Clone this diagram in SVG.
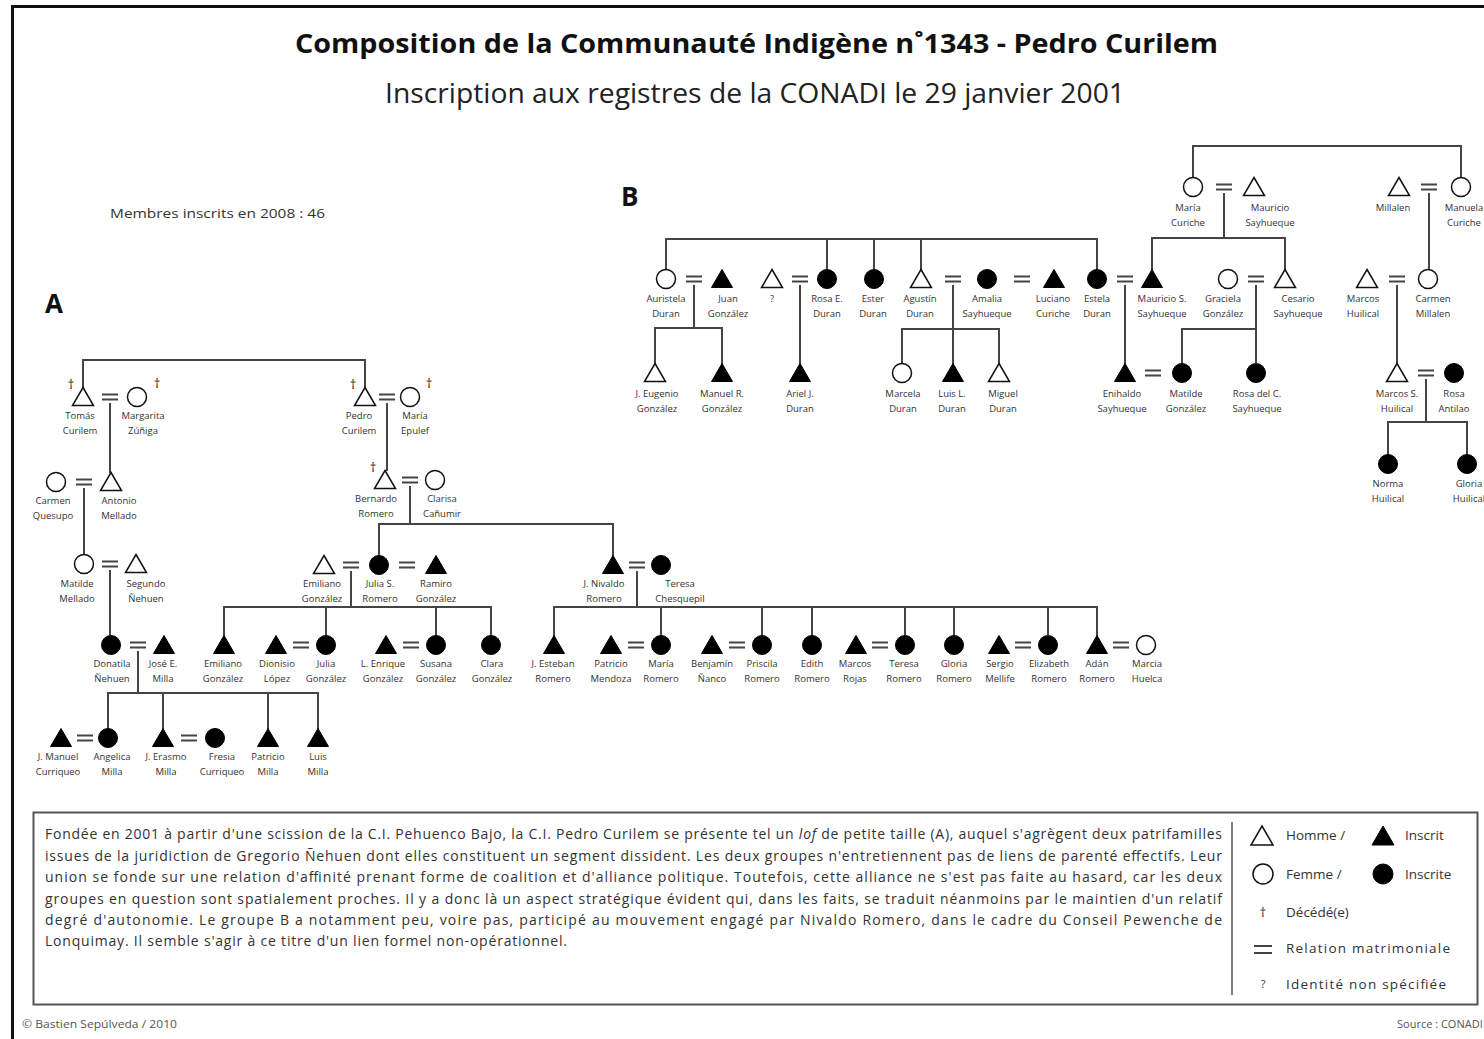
<svg xmlns="http://www.w3.org/2000/svg" xmlns:xlink="http://www.w3.org/1999/xlink" width="1484" height="1039" viewBox="0 0 1484 1039">
<style>
  text { font-family: "Open Sans", "Liberation Sans", sans-serif; }
  .node text { font-size: 9.5px; fill: #333; text-anchor: middle; }
  .node text.d { font-size: 13px; fill: #222; }
  .o { fill: #fff; stroke: #111; stroke-width: 1.5; }
  .k { fill: #000; stroke: #000; stroke-width: 1; }
  .c { stroke: #444; stroke-width: 2; fill: none; }
  .title { font-size: 27px; font-weight: bold; fill: #111; }
  .sub { font-size: 27px; fill: #222; }
  .body { font-size: 14px; fill: #333; }
  .leg { font-size: 13.5px; fill: #333; }
  .sec { font-family: "Open Sans", "Liberation Sans", sans-serif; font-size: 26px; font-weight: bold; fill: #111; }
</style>
<defs>
  <path id="T" d="M0,-9.5L10.5,8.5H-10.5Z"/>
  <circle id="C" r="9.5"/>
  <path id="E" d="M-8,-2.6H8M-8,2.6H8" stroke="#444" stroke-width="2" fill="none"/>
</defs>
<rect x="0" y="0" width="1484" height="1039" fill="#fff"/>
<path d="M12.5,1039V6.5H1484" stroke="#111" stroke-width="3" fill="none"/>

<text class="title" x="295" y="53" textLength="923" lengthAdjust="spacingAndGlyphs">Composition de la Communauté Indigène n˚1343 - Pedro Curilem</text>
<text class="sub" x="385" y="103" textLength="740" lengthAdjust="spacingAndGlyphs">Inscription aux registres de la CONADI le 29 janvier 2001</text>
<text x="110" y="218" font-size="13" fill="#333" textLength="215" lengthAdjust="spacingAndGlyphs">Membres inscrits en 2008 : 46</text>
<text class="sec" x="45" y="313">A</text>
<text class="sec" x="621" y="206">B</text>

<!-- connectors -->
<g id="connectors" class="c">
  <!-- A -->
  <path d="M83,388V360H365V388"/>
  <use href="#E" x="110" y="397"/>
  <path d="M110,403V473"/>
  <use href="#E" x="84" y="482"/>
  <path d="M84,488V554.5"/>
  <use href="#E" x="110" y="564"/>
  <path d="M110,570V635.5"/>
  <use href="#E" x="138" y="645"/>
  <path d="M138,651V693M108,728.5V693H318V729M163,693V729M268,693V729"/>
  <use href="#E" x="85" y="738"/>
  <use href="#E" x="189" y="738"/>
  <use href="#E" x="387" y="397"/>
  <path d="M387,403V471"/>
  <use href="#E" x="410" y="480"/>
  <path d="M410,486V524M379,555.5V524H613V556"/>
  <use href="#E" x="351" y="565"/>
  <use href="#E" x="407" y="565"/>
  <path d="M351,571V607M224,636V607H491V635.5M326,607V635.5M436,607V635.5"/>
  <use href="#E" x="301" y="645"/>
  <use href="#E" x="411" y="645"/>
  <use href="#E" x="637" y="565"/>
  <path d="M637,571V607M554,636V607H1097V636M661,607V635.5M762,607V635.5M812,607V635.5M905,607V635.5M954,607V635.5M1048,607V635.5"/>
  <use href="#E" x="636" y="645"/>
  <use href="#E" x="737" y="645"/>
  <use href="#E" x="880" y="645"/>
  <use href="#E" x="1023" y="645"/>
  <use href="#E" x="1121" y="645"/>
  <!-- B -->
  <path d="M1193,177.5V146H1461V177.5"/>
  <use href="#E" x="1224" y="187"/>
  <path d="M1224,193V238M1152,270V238H1285V270"/>
  <use href="#E" x="1429" y="187"/>
  <path d="M1429,193V269.5"/>
  <path d="M666,269.5V239H1097V269.5M827,239V269.5M874,239V269.5M921,239V270"/>
  <use href="#E" x="694" y="279"/>
  <path d="M694,285V328M655,364V328H722V364"/>
  <use href="#E" x="800" y="279"/>
  <path d="M800,285V364"/>
  <use href="#E" x="953" y="279"/>
  <use href="#E" x="1022" y="279"/>
  <path d="M953,285V364M902,363.5V329H999V364"/>
  <use href="#E" x="1125" y="279"/>
  <path d="M1125,285V364"/>
  <use href="#E" x="1256" y="279"/>
  <path d="M1256,285V363.5M1182,363.5V329H1256"/>
  <use href="#E" x="1397" y="279"/>
  <path d="M1397,285V364"/>
  <use href="#E" x="1153" y="373"/>
  <use href="#E" x="1426" y="373"/>
  <path d="M1426,379V422M1388,454.5V422H1467V454.5"/>
</g>

<!-- A nodes -->
<g id="n-tomas" class="node"><use href="#T" x="83" y="397" class="o"/><text class="d" x="71" y="389">†</text><text x="80" y="419">Tomás<tspan x="80" dy="15">Curilem</tspan></text></g>
<g id="n-margarita" class="node"><use href="#C" x="137" y="397" class="o"/><text class="d" x="157" y="388">†</text><text x="143" y="419">Margarita<tspan x="143" dy="15">Zúñiga</tspan></text></g>
<g id="n-pedro" class="node"><use href="#T" x="365" y="397" class="o"/><text class="d" x="353" y="389">†</text><text x="359" y="419">Pedro<tspan x="359" dy="15">Curilem</tspan></text></g>
<g id="n-maria-epulef" class="node"><use href="#C" x="410" y="397" class="o"/><text class="d" x="429" y="388">†</text><text x="415" y="419">María<tspan x="415" dy="15">Epulef</tspan></text></g>
<g id="n-carmen-quesupo" class="node"><use href="#C" x="56" y="482" class="o"/><text x="53" y="504">Carmen<tspan x="53" dy="15">Quesupo</tspan></text></g>
<g id="n-antonio" class="node"><use href="#T" x="111" y="482" class="o"/><text x="119" y="504">Antonio<tspan x="119" dy="15">Mellado</tspan></text></g>
<g id="n-bernardo" class="node"><use href="#T" x="385" y="480" class="o"/><text class="d" x="373" y="472">†</text><text x="376" y="502">Bernardo<tspan x="376" dy="15">Romero</tspan></text></g>
<g id="n-clarisa" class="node"><use href="#C" x="435" y="480" class="o"/><text x="442" y="502">Clarisa<tspan x="442" dy="15">Cañumir</tspan></text></g>
<g id="n-matilde-mellado" class="node"><use href="#C" x="84" y="564" class="o"/><text x="77" y="587">Matilde<tspan x="77" dy="15">Mellado</tspan></text></g>
<g id="n-segundo" class="node"><use href="#T" x="136" y="564" class="o"/><text x="146" y="587">Segundo<tspan x="146" dy="15">Ñehuen</tspan></text></g>
<g id="n-donatila" class="node"><use href="#C" x="111" y="645" class="k"/><text x="112" y="667">Donatila<tspan x="112" dy="15">Ñehuen</tspan></text></g>
<g id="n-jose" class="node"><use href="#T" x="164" y="645" class="k"/><text x="163" y="667">José E.<tspan x="163" dy="15">Milla</tspan></text></g>
<g id="n-jmanuel" class="node"><use href="#T" x="61" y="738" class="k"/><text x="58" y="760">J. Manuel<tspan x="58" dy="15">Curriqueo</tspan></text></g>
<g id="n-angelica" class="node"><use href="#C" x="108" y="738" class="k"/><text x="112" y="760">Angelica<tspan x="112" dy="15">Milla</tspan></text></g>
<g id="n-jerasmo" class="node"><use href="#T" x="163" y="738" class="k"/><text x="166" y="760">J. Erasmo<tspan x="166" dy="15">Milla</tspan></text></g>
<g id="n-fresia" class="node"><use href="#C" x="215" y="738" class="k"/><text x="222" y="760">Fresia<tspan x="222" dy="15">Curriqueo</tspan></text></g>
<g id="n-patricio-milla" class="node"><use href="#T" x="268" y="738" class="k"/><text x="268" y="760">Patricio<tspan x="268" dy="15">Milla</tspan></text></g>
<g id="n-luis-milla" class="node"><use href="#T" x="318" y="738" class="k"/><text x="318" y="760">Luis<tspan x="318" dy="15">Milla</tspan></text></g>

<g id="n-emiliano" class="node"><use href="#T" x="324" y="565" class="o"/><text x="322" y="587">Emiliano<tspan x="322" dy="15">González</tspan></text></g>
<g id="n-julia-s" class="node"><use href="#C" x="379" y="565" class="k"/><text x="380" y="587">Julia S.<tspan x="380" dy="15">Romero</tspan></text></g>
<g id="n-ramiro" class="node"><use href="#T" x="436" y="565" class="k"/><text x="436" y="587">Ramiro<tspan x="436" dy="15">González</tspan></text></g>
<g id="n-emiliano-g" class="node"><use href="#T" x="224" y="645" class="k"/><text x="223" y="667">Emiliano<tspan x="223" dy="15">González</tspan></text></g>
<g id="n-dionisio" class="node"><use href="#T" x="276" y="645" class="k"/><text x="277" y="667">Dionisio<tspan x="277" dy="15">López</tspan></text></g>
<g id="n-julia-g" class="node"><use href="#C" x="326" y="645" class="k"/><text x="326" y="667">Julia<tspan x="326" dy="15">González</tspan></text></g>
<g id="n-enrique" class="node"><use href="#T" x="386" y="645" class="k"/><text x="383" y="667">L. Enrique<tspan x="383" dy="15">González</tspan></text></g>
<g id="n-susana" class="node"><use href="#C" x="436" y="645" class="k"/><text x="436" y="667">Susana<tspan x="436" dy="15">González</tspan></text></g>
<g id="n-clara" class="node"><use href="#C" x="491" y="645" class="k"/><text x="492" y="667">Clara<tspan x="492" dy="15">González</tspan></text></g>

<g id="n-nivaldo" class="node"><use href="#T" x="613" y="565" class="k"/><text x="604" y="587">J. Nivaldo<tspan x="604" dy="15">Romero</tspan></text></g>
<g id="n-teresa-c" class="node"><use href="#C" x="661" y="565" class="k"/><text x="680" y="587">Teresa<tspan x="680" dy="15">Chesquepil</tspan></text></g>
<g id="n-jesteban" class="node"><use href="#T" x="554" y="645" class="k"/><text x="553" y="667">J. Esteban<tspan x="553" dy="15">Romero</tspan></text></g>
<g id="n-patricio-m" class="node"><use href="#T" x="611" y="645" class="k"/><text x="611" y="667">Patricio<tspan x="611" dy="15">Mendoza</tspan></text></g>
<g id="n-maria-r" class="node"><use href="#C" x="661" y="645" class="k"/><text x="661" y="667">María<tspan x="661" dy="15">Romero</tspan></text></g>
<g id="n-benjamin" class="node"><use href="#T" x="712" y="645" class="k"/><text x="712" y="667">Benjamín<tspan x="712" dy="15">Ñanco</tspan></text></g>
<g id="n-priscila" class="node"><use href="#C" x="762" y="645" class="k"/><text x="762" y="667">Priscila<tspan x="762" dy="15">Romero</tspan></text></g>
<g id="n-edith" class="node"><use href="#C" x="812" y="645" class="k"/><text x="812" y="667">Edith<tspan x="812" dy="15">Romero</tspan></text></g>
<g id="n-marcos-r" class="node"><use href="#T" x="856" y="645" class="k"/><text x="855" y="667">Marcos<tspan x="855" dy="15">Rojas</tspan></text></g>
<g id="n-teresa-r" class="node"><use href="#C" x="905" y="645" class="k"/><text x="904" y="667">Teresa<tspan x="904" dy="15">Romero</tspan></text></g>
<g id="n-gloria-r" class="node"><use href="#C" x="954" y="645" class="k"/><text x="954" y="667">Gloria<tspan x="954" dy="15">Romero</tspan></text></g>
<g id="n-sergio" class="node"><use href="#T" x="999" y="645" class="k"/><text x="1000" y="667">Sergio<tspan x="1000" dy="15">Mellife</tspan></text></g>
<g id="n-elizabeth" class="node"><use href="#C" x="1048" y="645" class="k"/><text x="1049" y="667">Elizabeth<tspan x="1049" dy="15">Romero</tspan></text></g>
<g id="n-adan" class="node"><use href="#T" x="1097" y="645" class="k"/><text x="1097" y="667">Adán<tspan x="1097" dy="15">Romero</tspan></text></g>
<g id="n-marcia" class="node"><use href="#C" x="1146" y="645" class="o"/><text x="1147" y="667">Marcia<tspan x="1147" dy="15">Huelca</tspan></text></g>

<!-- B nodes -->
<g id="n-maria-curiche" class="node"><use href="#C" x="1193" y="187" class="o"/><text x="1188" y="211">María<tspan x="1188" dy="15">Curiche</tspan></text></g>
<g id="n-mauricio" class="node"><use href="#T" x="1254" y="187" class="o"/><text x="1270" y="211">Mauricio<tspan x="1270" dy="15">Sayhueque</tspan></text></g>
<g id="n-millalen" class="node"><use href="#T" x="1399" y="187" class="o"/><text x="1393" y="211">Millalen</text></g>
<g id="n-manuela" class="node"><use href="#C" x="1461" y="187" class="o"/><text x="1464" y="211">Manuela<tspan x="1464" dy="15">Curiche</tspan></text></g>

<g id="n-auristela" class="node"><use href="#C" x="666" y="279" class="o"/><text x="666" y="302">Auristela<tspan x="666" dy="15">Duran</tspan></text></g>
<g id="n-juan" class="node"><use href="#T" x="722" y="279" class="k"/><text x="728" y="302">Juan<tspan x="728" dy="15">González</tspan></text></g>
<g id="n-unknown" class="node"><use href="#T" x="772" y="279" class="o"/><text x="772" y="302">?</text></g>
<g id="n-rosa-e" class="node"><use href="#C" x="827" y="279" class="k"/><text x="827" y="302">Rosa E.<tspan x="827" dy="15">Duran</tspan></text></g>
<g id="n-ester" class="node"><use href="#C" x="874" y="279" class="k"/><text x="873" y="302">Ester<tspan x="873" dy="15">Duran</tspan></text></g>
<g id="n-agustin" class="node"><use href="#T" x="921" y="279" class="o"/><text x="920" y="302">Agustín<tspan x="920" dy="15">Duran</tspan></text></g>
<g id="n-amalia" class="node"><use href="#C" x="987" y="279" class="k"/><text x="987" y="302">Amalia<tspan x="987" dy="15">Sayhueque</tspan></text></g>
<g id="n-luciano" class="node"><use href="#T" x="1054" y="279" class="k"/><text x="1053" y="302">Luciano<tspan x="1053" dy="15">Curiche</tspan></text></g>
<g id="n-estela" class="node"><use href="#C" x="1097" y="279" class="k"/><text x="1097" y="302">Estela<tspan x="1097" dy="15">Duran</tspan></text></g>
<g id="n-mauricio-s" class="node"><use href="#T" x="1152" y="279" class="k"/><text x="1162" y="302">Mauricio S.<tspan x="1162" dy="15">Sayhueque</tspan></text></g>
<g id="n-graciela" class="node"><use href="#C" x="1228" y="279" class="o"/><text x="1223" y="302">Graciela<tspan x="1223" dy="15">González</tspan></text></g>
<g id="n-cesario" class="node"><use href="#T" x="1285" y="279" class="o"/><text x="1298" y="302">Cesario<tspan x="1298" dy="15">Sayhueque</tspan></text></g>
<g id="n-marcos-h" class="node"><use href="#T" x="1367" y="279" class="o"/><text x="1363" y="302">Marcos<tspan x="1363" dy="15">Huilical</tspan></text></g>
<g id="n-carmen-m" class="node"><use href="#C" x="1428" y="279" class="o"/><text x="1433" y="302">Carmen<tspan x="1433" dy="15">Millalen</tspan></text></g>

<g id="n-jeugenio" class="node"><use href="#T" x="655" y="373" class="o"/><text x="657" y="397">J. Eugenio<tspan x="657" dy="15">González</tspan></text></g>
<g id="n-manuel-r" class="node"><use href="#T" x="722" y="373" class="k"/><text x="722" y="397">Manuel R.<tspan x="722" dy="15">González</tspan></text></g>
<g id="n-ariel" class="node"><use href="#T" x="800" y="373" class="k"/><text x="800" y="397">Ariel J.<tspan x="800" dy="15">Duran</tspan></text></g>
<g id="n-marcela" class="node"><use href="#C" x="902" y="373" class="o"/><text x="903" y="397">Marcela<tspan x="903" dy="15">Duran</tspan></text></g>
<g id="n-luis-l" class="node"><use href="#T" x="953" y="373" class="k"/><text x="952" y="397">Luis L.<tspan x="952" dy="15">Duran</tspan></text></g>
<g id="n-miguel" class="node"><use href="#T" x="999" y="373" class="o"/><text x="1003" y="397">Miguel<tspan x="1003" dy="15">Duran</tspan></text></g>
<g id="n-enihaldo" class="node"><use href="#T" x="1125" y="373" class="k"/><text x="1122" y="397">Enihaldo<tspan x="1122" dy="15">Sayhueque</tspan></text></g>
<g id="n-matilde-g" class="node"><use href="#C" x="1182" y="373" class="k"/><text x="1186" y="397">Matilde<tspan x="1186" dy="15">González</tspan></text></g>
<g id="n-rosa-c" class="node"><use href="#C" x="1256" y="373" class="k"/><text x="1257" y="397">Rosa del C.<tspan x="1257" dy="15">Sayhueque</tspan></text></g>
<g id="n-marcos-s" class="node"><use href="#T" x="1397" y="373" class="o"/><text x="1397" y="397">Marcos S.<tspan x="1397" dy="15">Huilical</tspan></text></g>
<g id="n-rosa-antilao" class="node"><use href="#C" x="1454" y="373" class="k"/><text x="1454" y="397">Rosa<tspan x="1454" dy="15">Antilao</tspan></text></g>
<g id="n-norma" class="node"><use href="#C" x="1388" y="464" class="k"/><text x="1388" y="487">Norma<tspan x="1388" dy="15">Huilical</tspan></text></g>
<g id="n-gloria-h" class="node"><use href="#C" x="1467" y="464" class="k"/><text x="1469" y="487">Gloria<tspan x="1469" dy="15">Huilical</tspan></text></g>

<!-- text box -->
<rect x="33.5" y="812.5" width="1444" height="192" fill="none" stroke="#555" stroke-width="2"/>
<line x1="1232" y1="822" x2="1232" y2="995" stroke="#555" stroke-width="1.5"/>
<g class="body">
  <text x="45" y="839" textLength="1177" lengthAdjust="spacing">Fondée en 2001 à partir d'une scission de la C.I. Pehuenco Bajo, la C.I. Pedro Curilem se présente tel un <tspan font-style="italic">lof</tspan> de petite taille (A), auquel s'agrègent deux patrifamilles</text>
  <text x="45" y="861" textLength="1177" lengthAdjust="spacing">issues de la juridiction de Gregorio Ñehuen dont elles constituent un segment dissident. Les deux groupes n'entretiennent pas de liens de parenté effectifs. Leur</text>
  <text x="45" y="882" textLength="1177" lengthAdjust="spacing">union se fonde sur une relation d'affinité prenant forme de coalition et d'alliance politique. Toutefois, cette alliance ne s'est pas faite au hasard, car les deux</text>
  <text x="45" y="904" textLength="1177" lengthAdjust="spacing">groupes en question sont spatialement proches. Il y a donc là un aspect stratégique évident qui, dans les faits, se traduit néanmoins par le maintien d'un relatif</text>
  <text x="45" y="925" textLength="1177" lengthAdjust="spacing">degré d'autonomie. Le groupe B a notamment peu, voire pas, participé au mouvement engagé par Nivaldo Romero, dans le cadre du Conseil Pewenche de</text>
  <text x="45" y="946" textLength="522" lengthAdjust="spacing">Lonquimay. Il semble s'agir à ce titre d'un lien formel non-opérationnel.</text>
</g>

<!-- legend -->
<g id="legend">
  <path d="M1262,826L1273,845H1251Z" class="o"/>
  <text class="leg" x="1286" y="840">Homme  /</text>
  <path d="M1383,826L1394,845H1372Z" class="k"/>
  <text class="leg" x="1405" y="840">Inscrit</text>
  <circle cx="1263" cy="874" r="10" class="o"/>
  <text class="leg" x="1286" y="879">Femme  /</text>
  <circle cx="1383" cy="874" r="10" class="k"/>
  <text class="leg" x="1405" y="879">Inscrite</text>
  <text class="leg" x="1263" y="917" text-anchor="middle">†</text>
  <text class="leg" x="1286" y="917">Décédé(e)</text>
  <path d="M1254,946H1272M1254,953H1272" stroke="#444" stroke-width="2"/>
  <text class="leg" x="1286" y="953" textLength="164" lengthAdjust="spacing">Relation matrimoniale</text>
  <text x="1263" y="988" font-size="11" fill="#333" text-anchor="middle">?</text>
  <text class="leg" x="1286" y="989" textLength="160" lengthAdjust="spacing">Identité non spécifiée</text>
</g>

<text x="22" y="1028" font-size="10" fill="#555" textLength="155" lengthAdjust="spacingAndGlyphs">© Bastien Sepúlveda / 2010</text>
<text x="1397" y="1028" font-size="11" fill="#555">Source : CONADI</text>
</svg>
